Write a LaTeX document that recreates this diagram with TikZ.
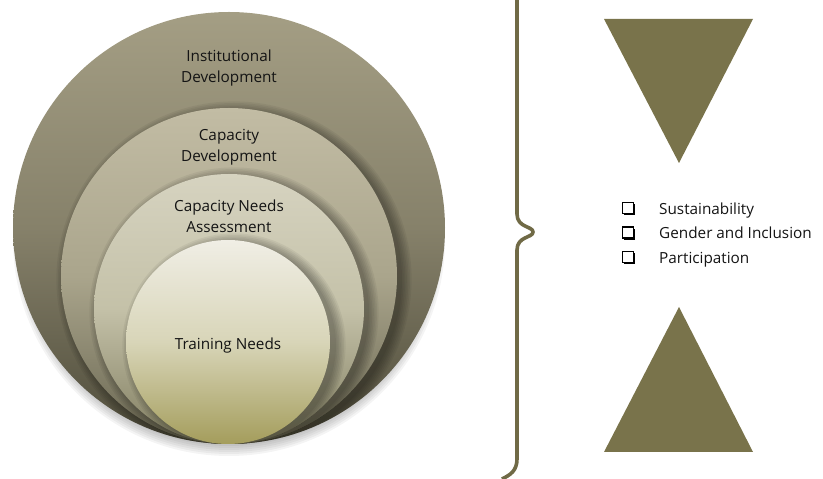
\documentclass[tikz,border=0pt]{standalone}
\usepackage{fontspec}
\setmainfont{Open Sans}
\usepackage{tikz}
\usetikzlibrary{positioning,shadows}
\definecolor{tri}{RGB}{121,115,75}
\definecolor{brace}{RGB}{112,106,70}
\definecolor{txt}{RGB}{20,20,20}
\definecolor{IDtop}{RGB}{164,158,132}
\definecolor{IDmid}{RGB}{134,129,106}
\definecolor{IDbot}{RGB}{78,75,58}
\definecolor{CDtop}{RGB}{194,188,164}
\definecolor{CDmid}{RGB}{170,165,140}
\definecolor{CDbot}{RGB}{104,101,80}
\definecolor{CAtop}{RGB}{214,211,192}
\definecolor{CAmid}{RGB}{196,193,168}
\definecolor{CAbot}{RGB}{128,125,96}
\definecolor{TNtop}{RGB}{240,238,229}
\definecolor{TNmid}{RGB}{216,213,184}
\definecolor{TNbot}{RGB}{164,157,92}
\newcommand{\softshadow}[3]{
    \foreach \k in {0,...,6}{
      \fill[black, opacity=0.05] (#1,#2) circle (#3+\k*1.6);
    }
}
\newcommand{\groundshadow}[3]{
    \foreach \k in {0,...,6}{
      \fill[black, opacity=0.045] (#1,#2) circle (#3-\k*2);
    }
}
\tikzset{
  ring/.style={circle, minimum size=#1, inner sep=0pt},
  lbl/.style={align=center, text=txt, font=\fontsize{15.3}{21}\selectfont},
  item/.style={anchor=base west, inner sep=0pt, text=txt, font=\fontsize{15.3}{21}\selectfont},
  chk/.style={draw=black, line width=1.8pt, fill=white, minimum size=11pt, inner sep=0pt,
    drop shadow={shadow xshift=1.6pt, shadow yshift=-1.6pt, opacity=1, fill=black}}
}
\begin{document}
\begin{tikzpicture}[x=1pt,y=1pt]
\useasboundingbox (0,0) rectangle (823,479);
% nested circles
\groundshadow{229}{239}{216}
\node[ring=432pt, top color=IDtop, bottom color=IDbot, middle color=IDmid] (idev) at (229,251) {};
\begin{scope}
  \clip (229,251) circle (216);
  \softshadow{234}{200}{168}
\end{scope}
\node[ring=336pt, top color=CDtop, bottom color=CDbot, middle color=CDmid] (cdev) at (229,203) {};
\begin{scope}
  \clip (229,203) circle (168);
  \softshadow{234}{167}{135}
\end{scope}
\node[ring=270pt, top color=CAtop, bottom color=CAbot, middle color=CAmid] (cna) at (229,170) {};
\begin{scope}
  \clip (229,170) circle (135);
  \softshadow{234}{134}{102}
\end{scope}
\node[ring=204pt, top color=TNtop, bottom color=TNbot, middle color=TNmid] (tneed) at (228,137) {};
\node[lbl, below=35pt of idev.north] (idevtxt) {Institutional\\Development};
\node[lbl, below=18pt of cdev.north] (cdevtxt) {Capacity\\Development};
\node[lbl, below=23pt of cna.north] (cnatxt) {Capacity Needs\\Assessment};
\node[lbl] (tneedtxt) at ([yshift=-4pt]tneed.center) {Training Needs};
% brace
\draw[brace, line width=3.6pt] (517,481) -- (517,265) .. controls (517,251) and (533,253) .. (533,247)
  .. controls (533,241) and (517,243) .. (517,229) -- (517,20) .. controls (517,8) and (510,4) .. (502,0);
% triangles
\fill[tri] (604,460) -- (753,460) -- (679,316) -- cycle;
\fill[tri] (679,172) -- (753,27) -- (604,27) -- cycle;
% list
\node[item] (s1) at (659,264.5) {Sustainability};
\node[item] (s2) at (659,240) {Gender and Inclusion};
\node[item] (s3) at (659,215.5) {Participation};
\foreach \n in {1,2,3}{
  \node[chk] (c\n) at ([xshift=-31pt, yshift=6.5pt]s\n.base west) {};
}
\end{tikzpicture}
\end{document}
